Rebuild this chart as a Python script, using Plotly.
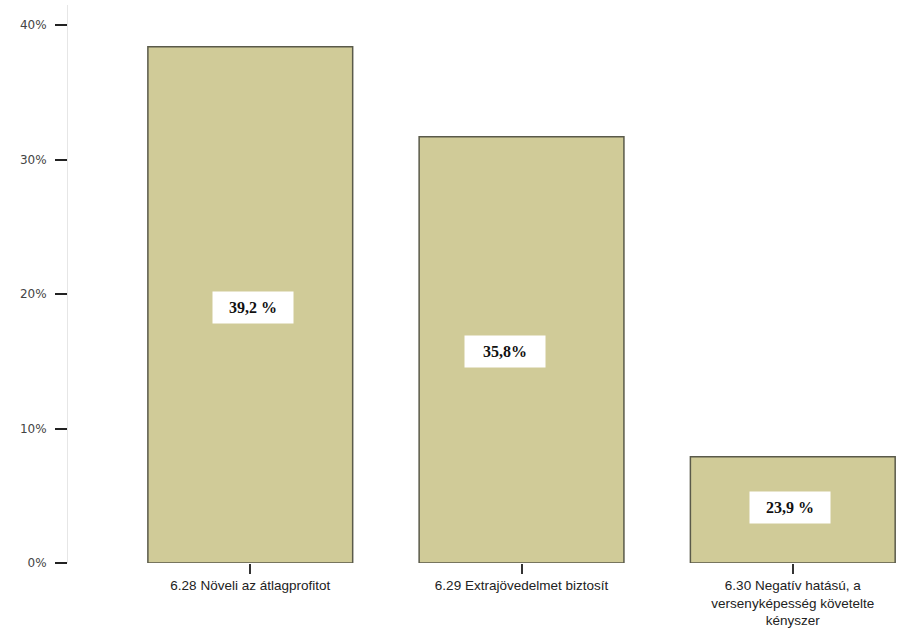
import plotly.graph_objects as go

# Categories and values (percent)
categories = [
    "6.28 Növeli az átlagprofitot",
    "6.29 Extrajövedelmet biztosít",
    "6.30 Negatív hatású, a<br>versenyképesség követelte<br>kényszer",
]
values = [38.4, 31.7, 7.9]

# Label boxes placed inside the bars
box_texts = ["39,2 %", "35,8%", "23,9 %"]
box_x = [0.01, 0.94, 1.99]
box_y = [19.0, 15.7, 4.1]

y_ticks = [0, 10, 20, 30, 40]
y_tick_text = ["0%", "10%", "20%", "30%", "40%"]

fig = go.Figure()

fig.add_trace(
    go.Bar(
        x=list(range(len(categories))),
        y=values,
        width=0.755,
        marker=dict(color="#d0cb98", line=dict(color="#5a5a4a", width=1.5)),
        hoverinfo="skip",
    )
)

for tx, xx, yy in zip(box_texts, box_x, box_y):
    fig.add_annotation(
        x=xx, y=yy, text="<b>" + tx + "</b>",
        showarrow=False,
        font=dict(family="Liberation Serif, Times New Roman, serif", size=16, color="#111"),
        bgcolor="white",
        borderpad=7,
        width=66,
    )

fig.update_layout(
    width=923,
    height=630,
    margin=dict(l=68, r=3, t=5, b=67),
    plot_bgcolor="white",
    paper_bgcolor="white",
    showlegend=False,
    font=dict(family="DejaVu Sans, Verdana, sans-serif", size=11, color="#333"),
)

fig.update_xaxes(
    automargin=False,
    range=[-0.672, 2.469],
    tickmode="array",
    tickvals=list(range(len(categories))),
    ticktext=categories,
    ticks="outside",
    ticklen=10,
    tickcolor="#333",
    tickwidth=1.5,
    showline=False,
    showgrid=False,
    zeroline=False,
    tickangle=0,
    tickfont=dict(family="Liberation Sans, Arial, sans-serif", size=13.5, color="#222"),
)

fig.update_yaxes(
    automargin=False,
    range=[0, 41.5],
    tickmode="array",
    tickvals=y_ticks,
    ticktext=y_tick_text,
    ticks="outside",
    ticklen=12,
    tickcolor="#222",
    tickwidth=1.5,
    ticklabelstandoff=6,
    showline=True,
    linecolor="#e6e6e6",
    linewidth=1,
    showgrid=False,
    zeroline=False,
    tickfont=dict(size=12, color="#444"),
)

# drop the browser's default body margin so the figure sits at the page corner
fig.write_html(
    "out.html",
    config={"displayModeBar": False},
    post_script="document.body.style.margin='0';",
)
